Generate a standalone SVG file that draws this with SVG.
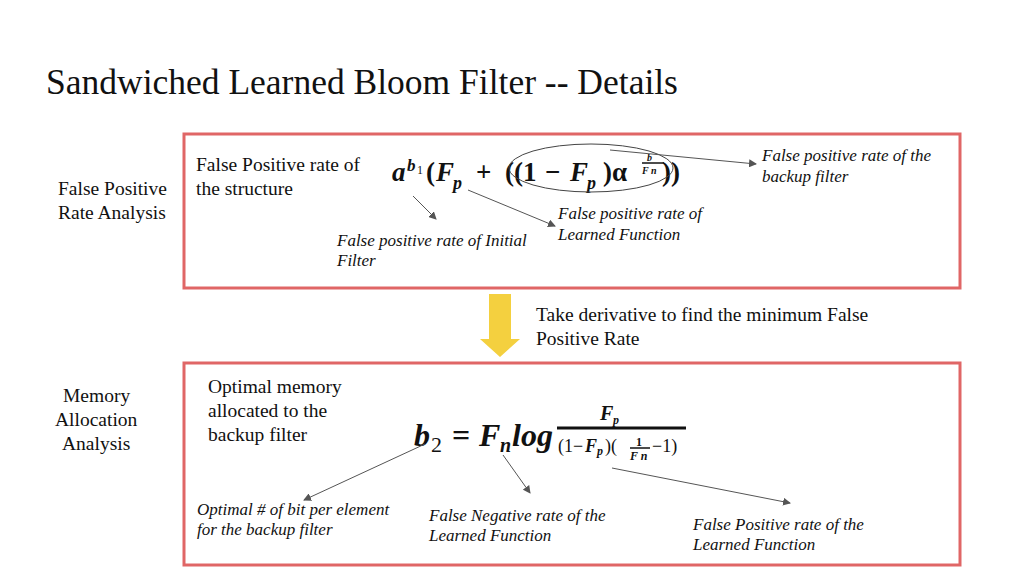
<svg xmlns="http://www.w3.org/2000/svg" width="1024" height="576" viewBox="0 0 1024 576" font-family="'Liberation Serif','DejaVu Serif',serif">
<style>
text{font-family:'Liberation Serif','DejaVu Serif',serif;fill:#111}
.box{fill:#fff;stroke:#e06666;stroke-width:3}
.lbl{font-size:19.5px}
.it{font-size:17px;font-style:italic}
.m{font-style:italic;font-weight:bold}
.b{font-weight:bold}
.c{stroke:#555;stroke-width:1;fill:none;marker-end:url(#ah)}
</style>
<defs><marker id="ah" markerWidth="8" markerHeight="8" refX="7" refY="4" orient="auto" markerUnits="userSpaceOnUse"><path d="M0,0 L8,4 L0,8 Z" fill="#555"/></marker></defs>
<rect width="1024" height="576" fill="#fff"/>
<text x="46" y="94" font-size="35.5">Sandwiched Learned Bloom Filter -- Details</text>
<g id="box1">
<rect class="box" x="184" y="134" width="776" height="154"/>
<text class="lbl" x="196" y="171">False Positive rate of</text>
<text class="lbl" x="196" y="195">the structure</text>
<text x="392" y="181" font-size="27" class="m">a</text>
<text x="407" y="171" font-size="17" class="m">b</text>
<text x="417" y="174" font-size="12">1</text>
<text x="426" y="181" font-size="27" class="b">(</text>
<text x="436" y="181" font-size="27" class="m">F</text>
<text x="453" y="189" font-size="18" class="m">p</text>
<text x="476" y="181" font-size="27" class="b">+</text>
<text x="505" y="181" font-size="27" class="b">((1</text>
<text x="545" y="181" font-size="27" class="b">−</text>
<text x="570" y="181" font-size="27" class="m">F</text>
<text x="587" y="189" font-size="18" class="m">p</text>
<text x="603" y="181" font-size="27" class="b">)α</text>
<text x="647" y="161" font-size="10" class="m">b</text>
<line x1="642" y1="163" x2="664" y2="163" stroke="#111" stroke-width="1.5"/>
<text x="642" y="174" font-size="10" class="m">F n</text>
<text x="662" y="181" font-size="27" class="b">))</text>
<ellipse cx="591" cy="168" rx="82" ry="24" fill="none" stroke="#444" stroke-width="1"/>
<text class="it" x="762" y="161">False positive rate of the</text>
<text class="it" x="762" y="182">backup filter</text>
<text class="it" x="558" y="219">False positive rate of</text>
<text class="it" x="558" y="240">Learned Function</text>
<text class="it" x="337" y="246">False positive rate of Initial</text>
<text class="it" x="337" y="266">Filter</text>
</g>
<text class="lbl" x="58" y="195">False Positive</text>
<text class="lbl" x="58" y="219">Rate Analysis</text>
<g id="arrow">
<path d="M489,294 H511 V339 H520 L500,357 L480,339 H489 Z" fill="#f4d03f"/>
</g>
<text class="lbl" x="536" y="321">Take derivative to find the minimum False</text>
<text class="lbl" x="536" y="345">Positive Rate</text>
<g id="box2">
<rect class="box" x="184" y="363" width="776" height="202"/>
<text class="lbl" x="208" y="393">Optimal memory</text>
<text class="lbl" x="208" y="417">allocated to the</text>
<text class="lbl" x="208" y="441">backup filter</text>
<text x="414" y="446" font-size="32" class="m">b</text>
<text x="431" y="452" font-size="22">2</text>
<text x="452" y="446" font-size="32" class="b">=</text>
<text x="479" y="446" font-size="32" class="m">F</text>
<text x="500" y="452" font-size="20" class="m">n</text>
<text x="512" y="446" font-size="32" class="m">log</text>
<text x="600" y="420" font-size="20" class="m">F</text>
<text x="613" y="424" font-size="12" class="m">p</text>
<line x1="557" y1="428" x2="686" y2="428" stroke="#111" stroke-width="3"/>
<text x="558" y="452" font-size="18">(1−</text>
<text x="585" y="452" font-size="18" class="m">F</text>
<text x="597" y="455" font-size="12" class="m">p</text>
<text x="605" y="452" font-size="18">)(</text>
<text x="636" y="446" font-size="12" class="b">1</text>
<line x1="630" y1="448" x2="650" y2="448" stroke="#111" stroke-width="1.5"/>
<text x="630" y="460" font-size="12" class="m">F n</text>
<text x="652" y="452" font-size="18">−1)</text>
<text class="it" x="197" y="515">Optimal # of bit per element</text>
<text class="it" x="197" y="535">for the backup filter</text>
<text class="it" x="429" y="521">False Negative rate of the</text>
<text class="it" x="429" y="541">Learned Function</text>
<text class="it" x="693" y="530">False Positive rate of the</text>
<text class="it" x="693" y="550">Learned Function</text>
</g>
<text class="lbl" x="63" y="402">Memory</text>
<text class="lbl" x="55" y="426">Allocation</text>
<text class="lbl" x="62" y="450">Analysis</text>
<g id="connectors">
<path class="c" d="M413,196 L436,219"/>
<path class="c" d="M468,190 L555,226"/>
<path class="c" d="M610,150 L756,164"/>
<path class="c" d="M425,444 L304,500"/>
<path class="c" d="M503,455 L530,493"/>
<path class="c" d="M612,468 L790,503"/>
</g>
</svg>
